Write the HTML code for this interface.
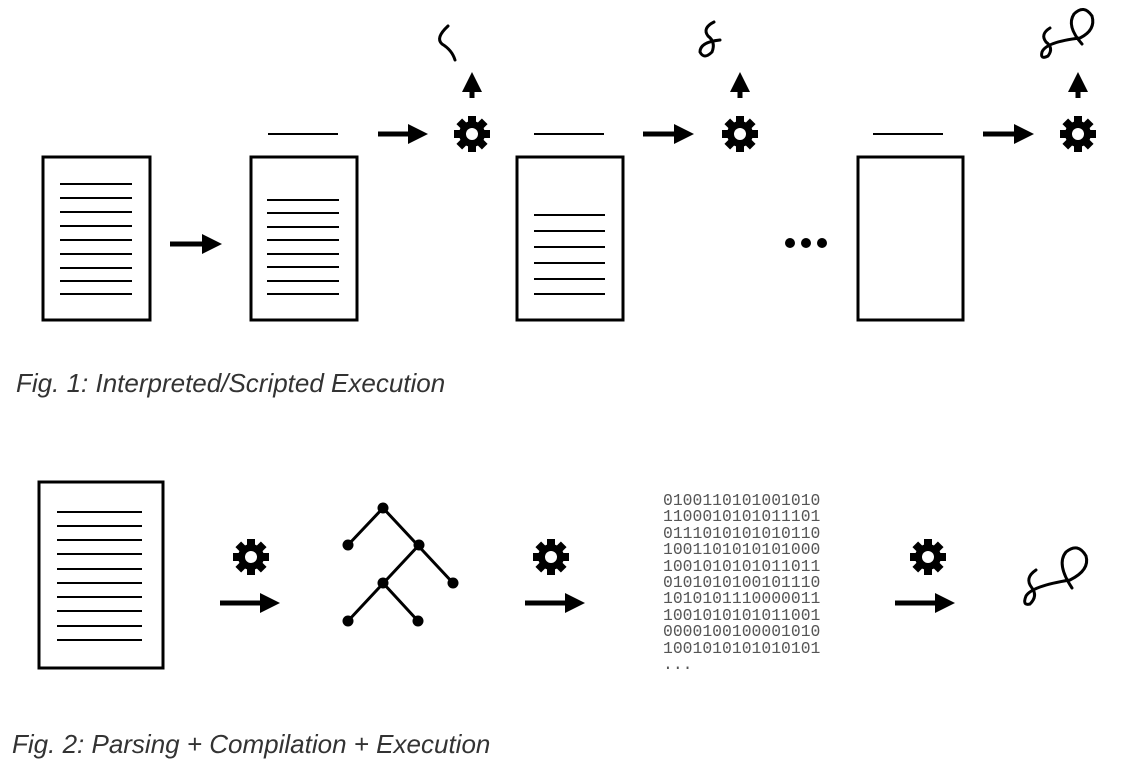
<!DOCTYPE html>
<html><head><style>
body{margin:0;background:#fff;width:1147px;height:772px;overflow:hidden;position:relative}
.cap{position:absolute;font-family:"Liberation Sans",sans-serif;font-style:italic;font-size:26px;color:#333}
.bin{position:absolute;left:663px;top:493px;font-family:"Liberation Mono",monospace;font-size:16.4px;line-height:16.4px;color:#555;white-space:pre}
</style></head><body>
<svg width="1147" height="772" style="position:absolute;left:0;top:0">
<defs>
<marker id="ah" markerWidth="4" markerHeight="4" refX="2" refY="2" orient="auto" markerUnits="strokeWidth"><path d="M0,0 L4,2 L0,4 z" fill="#000"/></marker>
<g id="gear">
<g fill="#000">
<rect x="-4" y="-18" width="8" height="36"/>
<rect x="-4" y="-18" width="8" height="36" transform="rotate(45)"/>
<rect x="-4" y="-18" width="8" height="36" transform="rotate(90)"/>
<rect x="-4" y="-18" width="8" height="36" transform="rotate(135)"/>
<circle r="13"/>
</g>
<circle r="6" fill="#fff"/>
</g>
</defs>
<g stroke="#000" fill="none" stroke-width="3">
<rect x="43" y="157" width="107" height="163"/>
<rect x="251" y="157" width="106" height="163"/>
<rect x="517" y="157" width="106" height="163"/>
<rect x="858" y="157" width="105" height="163"/>
<rect x="39" y="482" width="124" height="186"/>
</g>
<g stroke="#000" stroke-width="2">
<path d="M60 184H132M60 198H132M60 212H132M60 226H132M60 240H132M60 254H132M60 268H132M60 281H132M60 294H132"/>
<path d="M267 200H339M267 213H339M267 227H339M267 240H339M267 254H339M267 267H339M267 281H339M267 294H339"/>
<path d="M534 215H605M534 231H605M534 247H605M534 263H605M534 279H605M534 294H605"/>
<path d="M268 134H338M534 134H604M873 134H943"/>
<path d="M57 512H142M57 526H142M57 540H142M57 554H142M57 569H142M57 583H142M57 597H142M57 611H142M57 626H142M57 640H142"/>
</g>
<g stroke="#000" stroke-width="5" marker-end="url(#ah)">
<path d="M170 244H212"/>
<path d="M378 134H418"/>
<path d="M643 134H684"/>
<path d="M983 134H1024"/>
<path d="M472 98V82"/>
<path d="M740 98V82"/>
<path d="M1078 98V82"/>
<path d="M220 603H270"/>
<path d="M525 603H575"/>
<path d="M895 603H945"/>
</g>
<use href="#gear" x="472" y="134"/>
<use href="#gear" x="740" y="134"/>
<use href="#gear" x="1078" y="134"/>
<use href="#gear" x="251" y="557"/>
<use href="#gear" x="551" y="557"/>
<use href="#gear" x="928" y="557"/>
<g fill="#000"><circle cx="790" cy="243" r="5"/><circle cx="806" cy="243" r="5"/><circle cx="822" cy="243" r="5"/></g>
<g stroke="#000" fill="none" stroke-width="3" stroke-linecap="round">
<path d="M448 26 Q435 38 442 44 Q452 50 455 60"/>
<path d="M714 22 Q702 28 708 36 Q716 42 712 52 Q704 60 700 52 Q700 42 720 40"/>
<path d="M1050 28 Q1040 34 1046 42 Q1054 48 1048 56 Q1040 60 1042 52 Q1046 42 1080 38 Q1096 30 1092 16 Q1084 4 1074 14 Q1066 26 1082 44"/>
<path d="M1036 570 Q1024 578 1032 588 Q1038 596 1030 604 Q1022 606 1026 596 Q1032 586 1070 580 Q1090 570 1086 556 Q1078 542 1066 552 Q1056 564 1072 588"/>
<path d="M383 508L348 545M383 508L453 583M419 545L348 621M383 583L418 621"/>
</g>
<g fill="#000"><circle cx="383" cy="508" r="5.5"/><circle cx="348" cy="545" r="5.5"/><circle cx="419" cy="545" r="5.5"/><circle cx="383" cy="583" r="5.5"/><circle cx="453" cy="583" r="5.5"/><circle cx="348" cy="621" r="5.5"/><circle cx="418" cy="621" r="5.5"/></g>
</svg>
<div class="bin">0100110101001010
1100010101011101
0111010101010110
1001101010101000
1001010101011011
0101010100101110
1010101110000011
1001010101011001
0000100100001010
1001010101010101
...</div>
<div class="cap" style="left:16px;top:368px">Fig. 1: Interpreted/Scripted Execution</div>
<div class="cap" style="left:12px;top:729px">Fig. 2: Parsing + Compilation + Execution</div>
</body></html>
